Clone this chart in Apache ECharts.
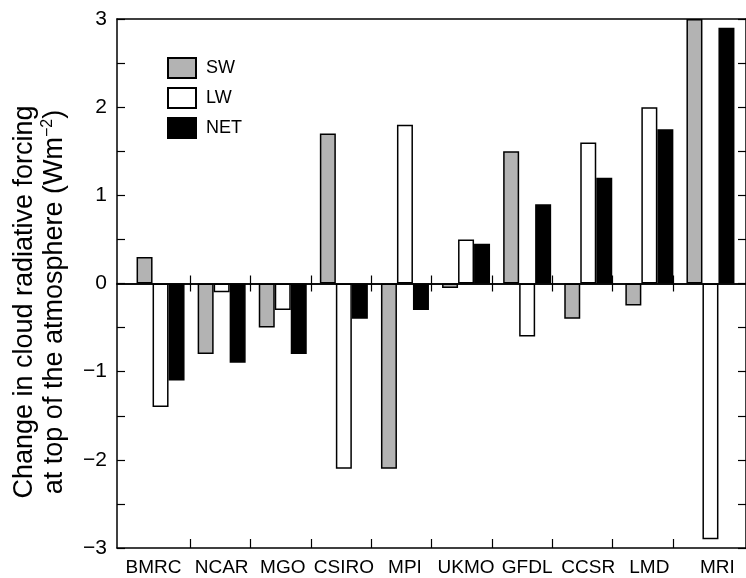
<!DOCTYPE html>
<html style="height: 100%">
  <head>
    <meta charset="utf-8" />
  </head>
  <body style="height: 100%; margin: 0; background: #fff">
    <div id="container" style="width: 746px; height: 578px"></div>
    <script
      type="text/javascript"
      src="https://cdn.jsdelivr.net/npm/echarts@6/dist/echarts.min.js"
    ></script>

    <script type="text/javascript">
      var dom = document.getElementById("container");
      var myChart = echarts.init(dom, null, { renderer: "canvas" });

      // models along the x axis
      let models = ["BMRC", "NCAR", "MGO", "CSIRO", "MPI", "UKMO", "GFDL", "CCSR", "LMD", "MRI"];
      // change in cloud radiative forcing, W m-2
      let sw = [0.3, -0.8, -0.5, 1.7, -2.1, -0.05, 1.5, -0.4, -0.25, 3.0];
      let lw = [-1.4, -0.1, -0.3, -2.1, 1.8, 0.5, -0.6, 1.6, 2.0, -2.9];
      let net = [-1.1, -0.9, -0.8, -0.4, -0.3, 0.45, 0.9, 1.2, 1.75, 2.9];
      // boundaries between models (ticks on the bottom and the zero line)
      let boundaries = [1, 2, 3, 4, 5, 6, 7, 8, 9];

      const font = "'Liberation Sans', Arial, Helvetica, sans-serif";
      const pad = 13 / 61.1; // frame padding outside the first/last model, in model units

      function frameX(extra) {
        return Object.assign(
          {
            type: "value",
            gridIndex: 0,
            min: -pad,
            max: models.length + pad,
            axisLabel: { show: false },
            splitLine: { show: false },
            axisTick: { show: false },
            axisLine: { show: true, onZero: false, lineStyle: { color: "#000", width: 1.5 } },
          },
          extra
        );
      }

      function frameY(extra) {
        return Object.assign(
          {
            type: "value",
            gridIndex: 0,
            min: -3,
            max: 3,
            interval: 0.5,
            splitLine: { show: false },
            axisLine: { show: true, onZero: false, lineStyle: { color: "#000", width: 1.5 } },
            axisTick: { show: true, inside: true, length: 8, lineStyle: { color: "#000", width: 1.2 } },
            axisLabel: { show: false },
          },
          extra
        );
      }

      let barStyle = function (color) {
        return { color: color, borderColor: "#000", borderWidth: 1.5 };
      };

      let option = {
        animation: false,
        backgroundColor: "#fff",
        textStyle: { fontFamily: font },
        grid: [
          { left: 117, top: 19, width: 637, height: 529 },
          { left: 130, top: 19, width: 611, height: 529 },
        ],
        legend: {
          orient: "vertical",
          left: 162,
          top: 52,
          itemWidth: 28,
          itemHeight: 20,
          itemGap: 8,
          icon: "rect",
          selectedMode: false,
          textStyle: { fontSize: 18, color: "#000", fontFamily: font, padding: [0, 0, 0, 5] },
          data: ["SW", "LW", "NET"],
        },
        graphic: [
          {
            type: "text",
            x: 40,
            y: 302,
            rotation: Math.PI / 2,
            style: {
              text: "{a|Change in cloud radiative forcing}\n{a|at top of the atmosphere (Wm}{s|−2}{a|)}",
              align: "center",
              verticalAlign: "middle",
              fill: "#000",
              rich: {
                a: { fontSize: 27, fontFamily: font, lineHeight: 30, fill: "#000" },
                s: { fontSize: 16, fontFamily: font, lineHeight: 30, verticalAlign: "top", padding: [0, 0, 12, 0], fill: "#000" },
              },
            },
          },
        ],
        xAxis: [
          // bottom frame with inward ticks between models
          frameX({
            position: "bottom",
            axisTick: { show: true, inside: true, length: 9, customValues: boundaries, lineStyle: { color: "#000", width: 1.2 } },
          }),
          // top frame
          frameX({ position: "top" }),
          // zero line, ticks pointing up
          frameX({
            position: "bottom",
            z: 10,
            axisLine: { show: true, onZero: true, onZeroAxisIndex: 0, lineStyle: { color: "#000", width: 1.5 } },
            axisTick: { show: true, inside: true, length: 8, customValues: boundaries, lineStyle: { color: "#000", width: 1.2 } },
          }),
          // zero line, ticks pointing down
          frameX({
            position: "top",
            z: 10,
            axisLine: { show: true, onZero: true, onZeroAxisIndex: 0, lineStyle: { color: "#000", width: 1.5 } },
            axisTick: { show: true, inside: true, length: 8, customValues: boundaries, lineStyle: { color: "#000", width: 1.2 } },
          }),
          // model names
          {
            type: "category",
            gridIndex: 1,
            data: models,
            axisLine: { show: false, onZero: false },
            axisTick: { show: false },
            axisLabel: {
              color: "#000",
              fontSize: 19,
              fontFamily: font,
              margin: 10,
              interval: 0,
              // first and last names sit slightly off-centre in the original
              formatter: function (v, i) {
                if (i === 0) return "{l|" + v + "}";
                if (i === models.length - 1) return "{r|" + v + "}";
                return v;
              },
              rich: {
                l: { fontSize: 19, fontFamily: font, color: "#000", padding: [0, 14, 0, 0] },
                r: { fontSize: 19, fontFamily: font, color: "#000", padding: [0, 0, 0, 14] },
              },
            },
          },
        ],
        yAxis: [
          frameY({
            position: "left",
            axisLabel: {
              show: true,
              color: "#000",
              fontSize: 21,
              fontFamily: font,
              margin: 10,
              formatter: function (v) {
                if (v % 1 !== 0) return "";
                return v < 0 ? "−" + Math.abs(v) : String(v);
              },
            },
          }),
          frameY({ position: "right" }),
          {
            type: "value",
            gridIndex: 1,
            min: -3,
            max: 3,
            show: false,
          },
        ],
        series: [
          { name: "SW", type: "bar", xAxisIndex: 4, yAxisIndex: 2, barWidth: 16, barGap: "0%", itemStyle: barStyle("#b3b3b3"), data: sw },
          { name: "LW", type: "bar", xAxisIndex: 4, yAxisIndex: 2, barWidth: 16, barGap: "0%", itemStyle: barStyle("#ffffff"), data: lw },
          { name: "NET", type: "bar", xAxisIndex: 4, yAxisIndex: 2, barWidth: 16, barGap: "0%", itemStyle: barStyle("#000000"), data: net },
        ],
      };

      myChart.setOption(option);
    </script>
  </body>
</html>
